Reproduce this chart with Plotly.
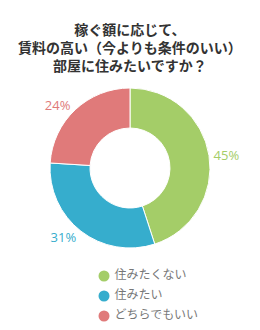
import plotly.graph_objects as go

categories = ["住みたくない", "住みたい", "どちらでもいい"]
values = [45, 31, 24]
colors = ["#A4CD68", "#36ADCD", "#E07A7A"]
title_lines = ["稼ぐ額に応じて、", "賃料の高い（今よりも条件のいい）", "部屋に住みたいですか？"]

W, H = 260, 330
cx, cy, r = 130, 168, 80

fig = go.Figure()
fig.add_trace(go.Pie(
    labels=categories, values=values, hole=0.5, sort=False,
    direction="clockwise", rotation=0,
    marker=dict(colors=colors, line=dict(color="white", width=1)),
    textinfo="percent", textposition="outside",
    texttemplate="%{value}%",
    textfont=dict(color=colors, size=13, family="Open Sans, Noto Sans CJK JP"),
    showlegend=False, hoverinfo="label+percent",
    domain=dict(x=[(cx - r) / W, (cx + r) / W], y=[(H - cy - r) / H, (H - cy + r) / H]),
))

# custom legend: circle markers with labels to the right
leg_x0, leg_y0, leg_dy = 104, 276, 20
fig.add_trace(go.Scatter(
    x=[leg_x0] * len(categories),
    y=[leg_y0 + i * leg_dy for i in range(len(categories))],
    mode="markers+text", text=[" " + c for c in categories], textposition="middle right",
    marker=dict(symbol="circle", size=11, color=colors),
    textfont=dict(size=12, color="#777777", family="Noto Sans CJK JP"),
    showlegend=False, hoverinfo="skip", cliponaxis=False,
))

fig.update_layout(
    width=W, height=H, margin=dict(l=0, r=0, t=0, b=0),
    paper_bgcolor="white", plot_bgcolor="rgba(0,0,0,0)",
    xaxis=dict(visible=False, range=[0, W], domain=[0, 1], fixedrange=True),
    yaxis=dict(visible=False, range=[H, 0], domain=[0, 1], fixedrange=True),
    annotations=[dict(
        text="<b>" + "<br>".join(title_lines) + "</b>", x=0.5, xref="paper", xanchor="center",
        y=1 - 47.5 / H, yref="paper", yanchor="middle", showarrow=False, align="center",
        font=dict(size=14, color="#333333", family="Noto Sans CJK JP"))],
    showlegend=False,
)
fig.write_html("out.html")
